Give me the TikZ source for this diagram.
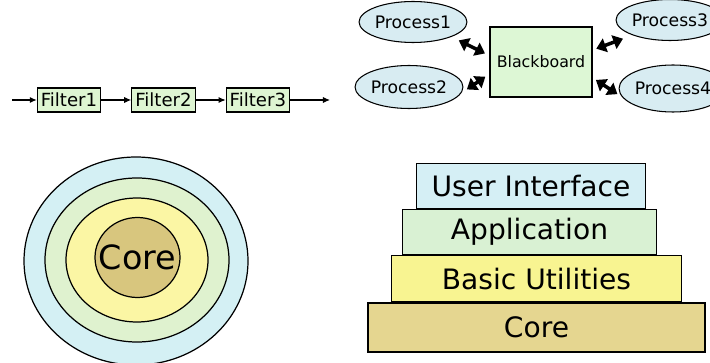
\documentclass[tikz,border=0pt]{standalone}
\usepackage{fontspec}
\setmainfont{DejaVu Sans}
\usetikzlibrary{positioning,shapes.geometric,arrows.meta}

\definecolor{filtergreen}{HTML}{DEF5D2}
\definecolor{boardgreen}{HTML}{DDF7D5}
\definecolor{procblue}{HTML}{D8ECF2}
\definecolor{ringblue}{HTML}{D4F0F4}
\definecolor{ringgreen}{HTML}{DFF2CF}
\definecolor{ringyellow}{HTML}{FBF6A4}
\definecolor{ringcore}{HTML}{D8C67E}
\definecolor{layerblue}{HTML}{D5EFF5}
\definecolor{layergreen}{HTML}{D9F1D3}
\definecolor{layeryellow}{HTML}{F8F491}
\definecolor{layercore}{HTML}{E5D690}

\tikzset{
  filterbox/.style={draw, line width=0.6pt, fill=filtergreen, inner xsep=2pt, inner ysep=0pt,
    minimum height=0.48cm, font=\fontsize{10.3}{12}\selectfont},
  procell/.style={draw, line width=0.6pt, ellipse, fill=procblue, inner sep=0pt,
    minimum width=1.8cm, minimum height=0.82cm, font=\fontsize{9.8}{12}\selectfont},
  pipe/.style={-{Latex[length=4pt,width=3.5pt]}, line width=0.6pt},
  biarrow/.style={{Triangle[length=5.5pt 0 0,width=8pt 0 0]}-{Triangle[length=5.5pt 0 0,width=8pt 0 0]},
    line width=2pt},
  layer/.style={draw, line width=0.7pt, inner sep=0pt, minimum height=0.9cm, font=\fontsize{16}{18}\selectfont},
  ring/.style={draw, line width=0.7pt}
}

\begin{document}
\begin{tikzpicture}

    \useasboundingbox (0,0) rectangle (14.2,7.24);
    \clip (0,0) rectangle (14.2,7.24);

    %% Pipes and filters

    \node[filterbox] (f1) at (1.38,5.24) {Filter1};
    \node[filterbox, right=0.6cm of f1] (f2) {Filter2};
    \node[filterbox, right=0.6cm of f2] (f3) {Filter3};
    \coordinate (in) at (0.24,5.24);
    \coordinate (out) at (6.6,5.24);
    \draw[pipe] (in) -- (f1);
    \draw[pipe] (f1) -- (f2);
    \draw[pipe] (f2) -- (f3);
    \draw[pipe] (f3) -- (out);

    %% Blackboard

    \node[draw, line width=0.6pt, fill=boardgreen, minimum width=2.04cm, minimum height=1.4cm,
      font=\fontsize{9}{11}\selectfont] (bb) at (10.82,6.0) {Blackboard};
    \node[procell] (p1) at (8.26,6.8) {Process1};
    \node[procell, minimum width=1.74cm, minimum height=0.86cm] (p2) at (8.18,5.5) {Process2};
    \node[procell, minimum width=1.86cm] (p3) at (13.4,6.84) {Process3};
    \node[procell, minimum width=1.86cm, minimum height=0.94cm] (p4) at (13.46,5.47) {Process4};

    \draw[biarrow, shorten <=0.16cm, shorten >=0.1cm] (p1.-21) -- (bb.173);
    \draw[biarrow, shorten <=0.14cm, shorten >=0.1cm] (p2.-7) -- (bb.193);
    \draw[biarrow, shorten <=0.08cm, shorten >=0.2cm] (bb.13) -- (p3.202);
    \draw[biarrow, shorten <=0.08cm, shorten >=0.12cm] (bb.-17) -- (p4.190);

    %% Rings

    \coordinate (C) at (2.74,2.04);
    \draw[ring, fill=ringblue] (2.72,2.02) ellipse (2.24 and 2.08);
    \draw[ring, fill=ringgreen] (C) ellipse (1.84 and 1.64);
    \draw[ring, fill=ringyellow] (C) ellipse (1.42 and 1.24);
    \draw[ring, fill=ringcore] (2.75,2.09) ellipse (0.85 and 0.8);
    \node[font=\fontsize{19}{22}\selectfont] (core) at (2.75,2.09) {Core};

    %% Layers

    \node[layer, fill=layercore, minimum width=6.74cm, minimum height=0.98cm] (lcore) at (10.73,0.69) {Core};
    \node[layer, fill=layeryellow, minimum width=5.8cm, minimum height=0.92cm, above=0pt of lcore] (util) {Basic Utilities};
    \node[layer, fill=layergreen, minimum width=5.08cm, above=0pt of util, xshift=-0.14cm] (app) {Application};
    \node[layer, fill=layerblue, minimum width=4.58cm, above=0pt of app, xshift=0.03cm] (ui) {User Interface};

\end{tikzpicture}
\end{document}
